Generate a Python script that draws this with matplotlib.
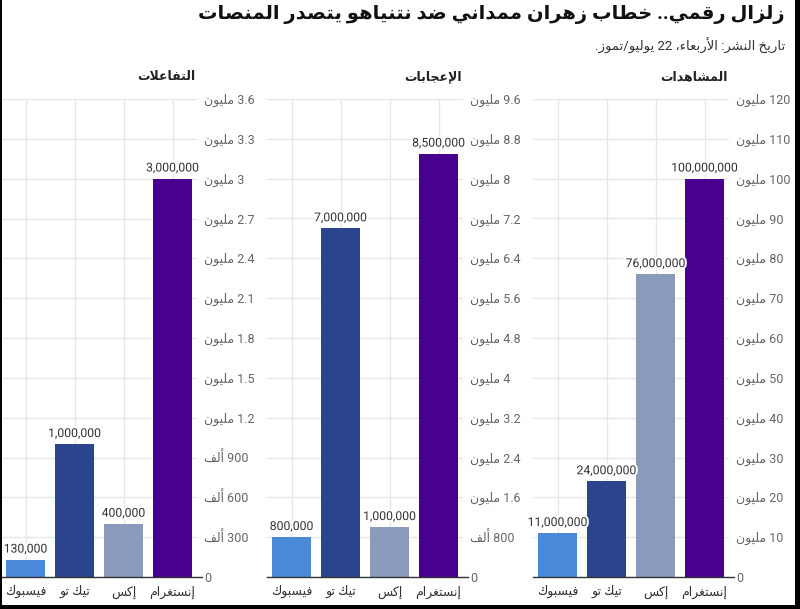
import re
import matplotlib
matplotlib.use("Agg")
import matplotlib.pyplot as plt
from matplotlib.patches import Rectangle
import matplotlib.patheffects as pe

plt.rcParams['font.family'] = ['Roboto', 'DejaVu Sans']

# ---------------- data ----------------
title = "زلزال رقمي.. خطاب زهران ممداني ضد نتنياهو يتصدر المنصات"
subtitle = "تاريخ النشر: الأربعاء، 22 يوليو/تموز."
categories = ["فيسبوك", "تيك تو", "إكس", "إنستغرام"]
colors = ["#4a89d8", "#2b448e", "#8a9abd", "#48008f"]

panel_titles = ["التفاعلات", "الإعجابات", "المشاهدات"]
interactions = [130000, 1000000, 400000, 3000000]
likes = [800000, 7000000, 1000000, 8500000]
views = [11000000, 24000000, 76000000, 100000000]

interactions_ticks = [0, 300e3, 600e3, 900e3, 1.2e6, 1.5e6, 1.8e6, 2.1e6, 2.4e6, 2.7e6, 3.0e6, 3.3e6, 3.6e6]
interactions_tick_labels = ["0", "300 ألف", "600 ألف", "900 ألف", "1.2 مليون", "1.5 مليون", "1.8 مليون",
                            "2.1 مليون", "2.4 مليون", "2.7 مليون", "3 مليون", "3.3 مليون", "3.6 مليون"]
likes_ticks = [0, 0.8e6, 1.6e6, 2.4e6, 3.2e6, 4.0e6, 4.8e6, 5.6e6, 6.4e6, 7.2e6, 8.0e6, 8.8e6, 9.6e6]
likes_tick_labels = ["0", "800 ألف", "1.6 مليون", "2.4 مليون", "3.2 مليون", "4 مليون", "4.8 مليون",
                     "5.6 مليون", "6.4 مليون", "7.2 مليون", "8 مليون", "8.8 مليون", "9.6 مليون"]
views_ticks = [0, 10e6, 20e6, 30e6, 40e6, 50e6, 60e6, 70e6, 80e6, 90e6, 100e6, 110e6, 120e6]
views_tick_labels = ["0", "10 مليون", "20 مليون", "30 مليون", "40 مليون", "50 مليون", "60 مليون",
                     "70 مليون", "80 مليون", "90 مليون", "100 مليون", "110 مليون", "120 مليون"]

# ---------------- Arabic shaping + visual order (matplotlib has no bidi/shaping) ----------------
_letters = [("\u0621", 1), ("\u0622", 2), ("\u0623", 2), ("\u0624", 2), ("\u0625", 2), ("\u0626", 4),
            ("\u0627", 2), ("\u0628", 4), ("\u0629", 2), ("\u062A", 4), ("\u062B", 4), ("\u062C", 4),
            ("\u062D", 4), ("\u062E", 4), ("\u062F", 2), ("\u0630", 2), ("\u0631", 2), ("\u0632", 2),
            ("\u0633", 4), ("\u0634", 4), ("\u0635", 4), ("\u0636", 4), ("\u0637", 4), ("\u0638", 4),
            ("\u0639", 4), ("\u063A", 4), ("\u0641", 4), ("\u0642", 4), ("\u0643", 4), ("\u0644", 4),
            ("\u0645", 4), ("\u0646", 4), ("\u0647", 4), ("\u0648", 2), ("\u0649", 2), ("\u064A", 4)]
FORMS = {}
_code = 0xFE80
for _ch, _n in _letters:
    FORMS[_ch] = (_code, _n)
    _code += _n
LAMALEF = {"\u0622": 0xFEF5, "\u0623": 0xFEF7, "\u0625": 0xFEF9, "\u0627": 0xFEFB}


def _shape(s):
    units = []
    i = 0
    while i < len(s):
        c = s[i]
        if c == "\u0644" and i + 1 < len(s) and s[i + 1] in LAMALEF:
            units.append(("LA", s[i + 1]))
            i += 2
        else:
            units.append((c, None))
            i += 1

    def joinable(u):
        return u[0] == "LA" or (u[0] in FORMS and u[0] != "\u0621")

    def dual(u):
        return u[0] != "LA" and u[0] in FORMS and FORMS[u[0]][1] == 4

    out = []
    for k, u in enumerate(units):
        if not joinable(u):
            out.append(u[0])
            continue
        jp = k > 0 and dual(units[k - 1])
        jn = dual(u) and k + 1 < len(units) and joinable(units[k + 1])
        if u[0] == "LA":
            out.append(chr(LAMALEF[u[1]] + (1 if jp else 0)))
        else:
            base, n = FORMS[u[0]]
            idx = (1 if jp else 0) + (2 if jn else 0)
            if n == 2:
                idx = 1 if jp else 0
            out.append(chr(base + idx))
    return "".join(out)


def rtl(s):
    sh = _shape(s)
    toks = re.findall(r"[0-9A-Za-z]+(?:[.,][0-9A-Za-z]+)*|.", sh)
    return "".join(reversed(toks))


# ---------------- figure ----------------
W, H = 800, 609
fig = plt.figure(figsize=(W / 100, H / 100), dpi=100)
fig.patch.set_facecolor("white")

panels = [
    (panel_titles[0], interactions, interactions_ticks, interactions_tick_labels),
    (panel_titles[1], likes, likes_ticks, likes_tick_labels),
    (panel_titles[2], views, views_ticks, views_tick_labels),
]
lefts_px = [1, 267, 533]
width_px = 196
bottom = (H - 577) / H
height = (577 - 99) / H
x = list(range(len(categories)))

for (ptitle, vals, ticks, tlabels), lp in zip(panels, lefts_px):
    ax = fig.add_axes([lp / W, bottom, width_px / W, height])
    ax.set_axisbelow(True)
    ax.bar(x, vals, width=0.79, color=colors, zorder=2)
    ax.set_xlim(-0.5, 3.5)
    ax.set_ylim(0, ticks[-1])
    for s in ax.spines.values():
        s.set_visible(False)
    ax.yaxis.tick_right()
    ax.set_yticks(ticks)
    ax.set_yticklabels([rtl(t) for t in tlabels], fontsize=9, color="#666666")
    ax.tick_params(axis="y", length=0, pad=5)
    ax.set_xticks(x)
    ax.set_xticklabels([rtl(c) for c in categories], fontsize=9, color="#333333")
    ax.tick_params(axis="x", length=0, pad=6)
    ax.grid(True, color="#e6e6e6", lw=1)
    ax.axhline(0, xmin=0, xmax=1.025, color="#333333", lw=1, clip_on=False, zorder=3)
    for xi, v in zip(x, vals):
        ax.annotate(f"{v:,}", (xi, v), xytext=(0, 3), textcoords="offset points",
                    ha="center", va="bottom", fontsize=8.8, color="#333333", zorder=4,
                    path_effects=[pe.withStroke(linewidth=3, foreground="white")])
    fig.text((lp + width_px - 1) / W, 1 - 77 / H, rtl(ptitle), ha="right", va="center",
             fontsize=9, fontweight="bold", color="#222222")

fig.text(785 / W, 1 - 15 / H, rtl(title), ha="right", va="center", fontsize=14,
         fontweight="bold", color="#111111")
fig.text(785 / W, 1 - 46 / H, rtl(subtitle), ha="right", va="center", fontsize=9.5,
         color="#333333")

# black frame as in the reference
for r in [(0, 0, 2 / W, 1), (795 / W, 0, 5 / W, 1), (0, 0, 1, 4 / H)]:
    fig.patches.append(Rectangle(r[:2], r[2], r[3], transform=fig.transFigure,
                                 facecolor="black", edgecolor="none", zorder=10))

fig.savefig("out.png", dpi=100, facecolor="white")
